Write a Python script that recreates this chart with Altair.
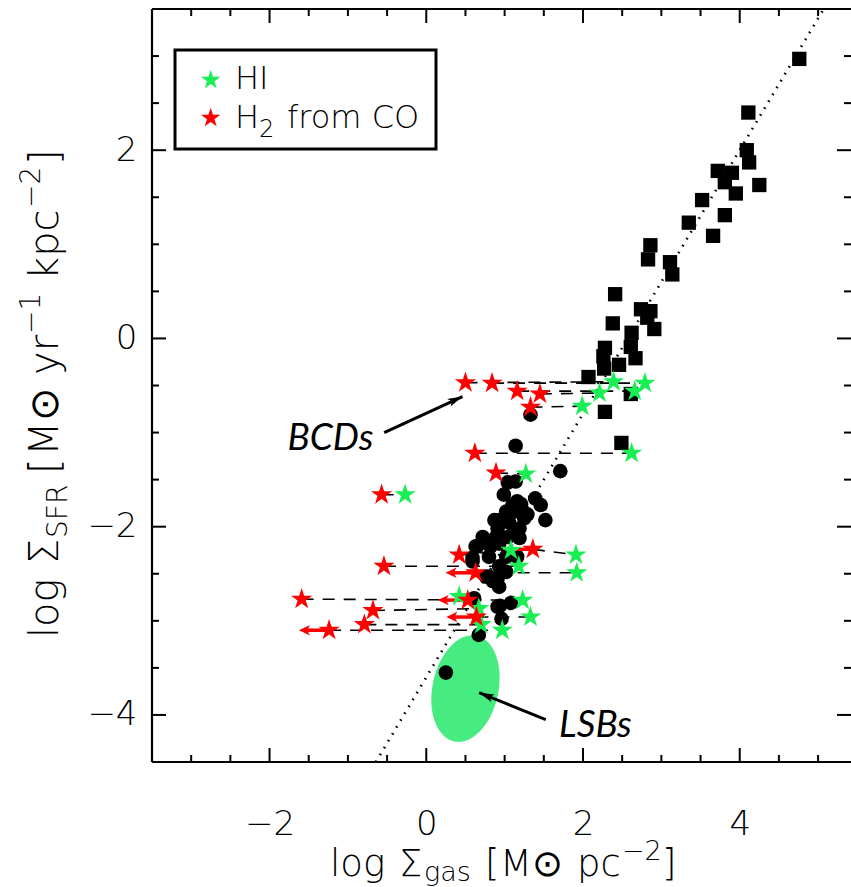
import altair as alt
import pandas as pd

# ---------------------------------------------------------------- data
# Starburst / normal galaxies (squares)
sq_x = [4.76, 4.11, 4.09, 4.12, 3.72, 3.90, 3.81, 4.25, 3.95, 3.52, 3.81, 3.35,
        3.66, 2.86, 2.83, 3.11, 3.14, 2.41, 2.74, 2.86, 2.82, 2.38, 2.91, 2.62,
        2.61, 2.28, 2.67, 2.26, 2.46, 2.27, 2.07, 2.61, 2.28, 2.49]
sq_y = [2.97, 2.40, 2.00, 1.87, 1.78, 1.76, 1.66, 1.63, 1.54, 1.47, 1.31, 1.23,
        1.09, 0.99, 0.84, 0.81, 0.68, 0.47, 0.31, 0.29, 0.22, 0.16, 0.10, 0.06,
        -0.09, -0.10, -0.21, -0.19, -0.28, -0.32, -0.41, -0.59, -0.78, -1.11]

# Spiral disks (circles)
ci_x = [1.33, 1.14, 1.71, 1.04, 1.14, 0.99, 1.16, 1.39, 1.46, 1.10, 1.21, 1.02,
        1.12, 0.93, 1.25, 1.29, 1.52, 1.06, 0.87, 0.91, 1.19, 1.16, 0.72, 0.89,
        1.04, 1.19, 0.63, 0.82, 0.93, 0.80, 0.59, 1.16, 1.02, 0.93, 1.02, 0.80,
        0.91, 0.76, 0.85, 0.93, 0.61, 0.94, 1.08, 0.91, 0.96, 0.67, 0.25, 0.59,
        0.65]
ci_y = [-0.81, -1.14, -1.41, -1.53, -1.52, -1.66, -1.73, -1.70, -1.77, -1.77,
        -1.76, -1.84, -1.84, -1.93, -1.91, -1.87, -1.93, -1.96, -1.93, -2.02,
        -2.02, -2.07, -2.11, -2.11, -2.11, -2.12, -2.21, -2.21, -2.18, -2.32,
        -2.33, -2.32, -2.32, -2.42, -2.48, -2.53, -2.55, -2.53, -2.58, -2.64,
        -2.76, -2.84, -2.81, -2.85, -2.98, -3.15, -3.55, -2.37, -2.21]

# Dwarfs: H2 from CO (red) and HI (green), one entry per galaxy
h2_x = [0.50, 0.84, 1.16, 1.45, 1.33, 0.62, 0.89, -0.57, 0.42, 1.36, -0.54,
        0.63, -1.59, 0.53, -0.68, 0.64, -0.79, -1.24]
h2_y = [-0.47, -0.475, -0.56, -0.59, -0.73, -1.22, -1.43, -1.66, -2.30, -2.24,
        -2.42, -2.49, -2.77, -2.78, -2.89, -2.96, -3.04, -3.10]
h2_limit = [False, False, False, False, False, False, False, False, False, True,
            False, True, False, True, False, True, False, True]
hi_x = [2.39, 2.79, 2.66, 2.21, 1.99, 2.62, 1.27, -0.27, 1.08, 1.91, 1.18, 1.92,
        1.23, 0.42, 0.67, 1.33, 0.70, 0.97]
hi_y = [-0.46, -0.475, -0.56, -0.58, -0.72, -1.22, -1.44, -1.66, -2.25, -2.30,
        -2.42, -2.49, -2.78, -2.74, -2.87, -2.96, -3.04, -3.10]

# Schmidt law, slope 1.4, across the plotted range
law_x = [-0.643, 5.071]
law_y = [-4.5, 3.5]

# LSB region
lsb_x = [0.50]
lsb_y = [-3.72]

# annotations: label position, arrow tail, arrow tip, head angle
ann_text = ["BCDs", "LSBs"]
ann_tx = [-1.772, 1.695]
ann_ty = [-1.184, -4.234]
ann_x0 = [-0.537, 1.525]
ann_y0 = [-1.00, -4.05]
ann_x1 = [0.462, 0.675]
ann_y1 = [-0.617, -3.763]
ann_angle = [65.3, 292.3]

x_major = [-2, 0, 2, 4]
x_minor = [-3, -2.5, -1.5, -1, -0.5, 0.5, 1, 1.5, 2.5, 3, 3.5, 4.5, 5]
y_major = [-4, -2, 0, 2]
y_minor = [-3.5, -3, -2.5, -1.5, -1, -0.5, 0.5, 1, 1.5, 2.5, 3]

# ---------------------------------------------------------------- layout
W, H = 699, 753
OX, OY = 152, 9
FONT = "DejaVu Sans"
RED = "#ff0000"
GREEN = "#1aee55"
STAR = ("M 0 -1 L 0.2245 -0.309 L 0.951 -0.309 L 0.363 0.118 L 0.588 0.809 "
        "L 0 0.382 L -0.588 0.809 L -0.363 0.118 L -0.951 -0.309 "
        "L -0.2245 -0.309 Z")
ELLIPSE = "M -0.611 0 A 0.611 1 0 1 0 0.611 0 A 0.611 1 0 1 0 -0.611 0 Z"
HEAD = "M 0 0 L 0.42 1.5 L 0 1.15 L -0.42 1.5 Z"
LIMIT_HEAD = "M 0 -1 L 0.85 0.8 L 0 0.35 L -0.85 0.8 Z"

xs = alt.Scale(domain=[-3.5, 5.42], nice=False, zero=False)
ys = alt.Scale(domain=[-4.5, 3.5], nice=False, zero=False)
x_axis = alt.Axis(values=x_major, ticks=False, domain=False, grid=False,
                  title=None, labelFontSize=34, labelFont=FONT,
                  labelFontWeight=200, labelColor="black", labelPadding=45,
                  format="d", labelFlush=False)
y_axis = alt.Axis(values=y_major, ticks=False, domain=False, grid=False,
                  title=None, labelFontSize=34, labelFont=FONT,
                  labelFontWeight=200, labelColor="black", labelPadding=15,
                  format="d", labelFlush=False)


def X(f):
    return alt.X(f, type="quantitative", scale=xs, axis=x_axis)


def Y(f):
    return alt.Y(f, type="quantitative", scale=ys, axis=y_axis)


one = pd.DataFrame({"k": [0]})

squares = pd.DataFrame({"x": sq_x, "y": sq_y})
circles = pd.DataFrame({"x": ci_x, "y": ci_y})
pairs = pd.DataFrame({"h2x": h2_x, "h2y": h2_y, "hix": hi_x, "hiy": hi_y,
                      "lim": h2_limit})
limits = pairs[pairs["lim"]]
law = pd.DataFrame({"x": law_x, "y": law_y})
lsb = pd.DataFrame({"x": lsb_x, "y": lsb_y})
ann = pd.DataFrame({"t": ann_text, "tx": ann_tx, "ty": ann_ty, "x0": ann_x0,
                    "y0": ann_y0, "x1": ann_x1, "y1": ann_y1,
                    "a": ann_angle})

layers = []

# LSB ellipse
layers.append(alt.Chart(lsb).mark_point(
    shape=ELLIPSE, size=11664, angle=12, filled=True, color="#46ec80",
    opacity=1, strokeWidth=0).encode(x=X("x"), y=Y("y")))

# Schmidt law
layers.append(alt.Chart(law).mark_line(
    color="black", strokeWidth=2.6, strokeDash=[1.6, 6.4], clip=True
).encode(x=X("x"), y=Y("y")))

# dashed connectors H2 -> HI
layers.append(alt.Chart(pairs).mark_rule(
    color="black", strokeWidth=1.6, strokeDash=[12, 9]
).encode(x=X("h2x"), y=Y("h2y"), x2=alt.X2("hix"), y2=alt.Y2("hiy")))

# circles and squares
layers.append(alt.Chart(circles).mark_point(
    shape="circle", size=215, filled=True, color="black", opacity=1
).encode(x=X("x"), y=Y("y")))
layers.append(alt.Chart(squares).mark_point(
    shape="square", size=205, filled=True, color="black", opacity=1
).encode(x=X("x"), y=Y("y")))

# upper-limit arrows on H2 points
layers.append(alt.Chart(limits).mark_rule(
    color=RED, strokeWidth=3.5, x2Offset=-22
).encode(x=X("h2x"), x2=alt.X2("h2x"), y=Y("h2y")))
layers.append(alt.Chart(limits).mark_point(
    shape=LIMIT_HEAD, size=150, angle=270, filled=True, color=RED, opacity=1,
    xOffset=-24, strokeWidth=0
).encode(x=X("h2x"), y=Y("h2y")))

# stars
layers.append(alt.Chart(pairs).mark_point(
    shape=STAR, size=500, filled=True, color=GREEN, opacity=1, strokeWidth=0
).encode(x=X("hix"), y=Y("hiy")))
layers.append(alt.Chart(pairs).mark_point(
    shape=STAR, size=500, filled=True, color=RED, opacity=1, strokeWidth=0
).encode(x=X("h2x"), y=Y("h2y")))

# annotations
layers.append(alt.Chart(ann).mark_text(
    align="left", baseline="alphabetic", font="Lato", fontStyle="italic",
    fontSize=37, color="black"
).encode(x=X("tx"), y=Y("ty"), text="t:N"))
layers.append(alt.Chart(ann).mark_rule(color="black", strokeWidth=3).encode(
    x=X("x0"), y=Y("y0"), x2=alt.X2("x1"), y2=alt.Y2("y1")))
layers.append(alt.Chart(ann).mark_point(
    shape=HEAD, size=400, filled=True, color="black", opacity=1,
    strokeWidth=0
).encode(x=X("x1"), y=Y("y1"), angle=alt.Angle("a:Q", scale=None)))

# frame (left, top, bottom)
layers.append(alt.Chart(one).mark_rule(color="black", strokeWidth=2.2).encode(
    x=alt.value(0), y=alt.value(0), y2=alt.value(H)))
layers.append(alt.Chart(one).mark_rule(color="black", strokeWidth=2.2).encode(
    x=alt.value(0), x2=alt.value(W), y=alt.value(0)))
layers.append(alt.Chart(one).mark_rule(color="black", strokeWidth=2.2).encode(
    x=alt.value(0), x2=alt.value(W), y=alt.value(H)))

# inward ticks on all four sides
xmaj = pd.DataFrame({"v": x_major})
xmin = pd.DataFrame({"v": x_minor})
ymaj = pd.DataFrame({"v": y_major})
ymin = pd.DataFrame({"v": y_minor})
for df, ln in ((xmaj, 14), (xmin, 7)):
    layers.append(alt.Chart(df).mark_rule(color="black", strokeWidth=2).encode(
        x=X("v"), y=alt.value(H), y2=alt.value(H - ln)))
    layers.append(alt.Chart(df).mark_rule(color="black", strokeWidth=2).encode(
        x=X("v"), y=alt.value(0), y2=alt.value(ln)))
for df, ln in ((ymaj, 14), (ymin, 7)):
    layers.append(alt.Chart(df).mark_rule(color="black", strokeWidth=2).encode(
        y=Y("v"), x=alt.value(0), x2=alt.value(ln)))
    layers.append(alt.Chart(df).mark_rule(color="black", strokeWidth=2).encode(
        y=Y("v"), x=alt.value(W), x2=alt.value(W - ln)))

# legend box
layers.append(alt.Chart(one).mark_rect(
    fill="white", stroke="black", strokeWidth=3
).encode(x=alt.value(23), x2=alt.value(284), y=alt.value(41),
         y2=alt.value(140)))
leg = pd.DataFrame({"c": ["HI", "H2"], "py": [71, 109]})
layers.append(alt.Chart(leg).mark_point(
    shape=STAR, size=420, filled=True, opacity=1, strokeWidth=0
).encode(x=alt.value(58.7), y=alt.Y("py:Q", scale=None),
         color=alt.Color("c:N", scale=alt.Scale(domain=["HI", "H2"],
                                                range=[GREEN, RED]),
                         legend=None)))


def txt(s, px, py, size=32, angle=0):
    """Text placed in page pixels."""
    return alt.Chart(one).mark_text(
        text=s, align="left", baseline="alphabetic", font=FONT,
        fontWeight=200, fontSize=size, angle=angle, color="black"
    ).encode(x=alt.value(px - OX), y=alt.value(py - OY))


# legend labels
layers.append(txt("HI", 235, 89))
layers.append(txt("H", 235, 128))
layers.append(txt("2", 259, 137, 24))
layers.append(txt("from CO", 287, 128))

# x title: log Σgas [M⊙ pc−2]
XB = 876
for s, px, py, sz in (("log", 330, XB, 37), ("Σ", 399, XB, 37),
                      ("gas", 424, XB + 5, 27), ("[", 485, XB, 37),
                      ("M⊙", 500, XB, 37), ("pc", 577, XB, 37),
                      ("−2", 622, XB - 16, 27), ("]", 662, XB, 37)):
    layers.append(txt(s, px, py, sz))

# y title: log ΣSFR [M⊙ yr−1 kpc−2]
BX = 58
YS = 8
for s, px, py, sz in (("log", BX, 630, 40), ("Σ", BX, 556, 40),
                      ("SFR", BX + 9, 530, 28), ("[", BX, 466, 40),
                      ("M⊙", BX, 448, 40), ("yr", BX, 367, 40),
                      ("−1", BX - 18, 326, 28), ("kpc", BX, 272, 40),
                      ("−2", BX - 18, 200, 28), ("]", BX, 157, 40)):
    layers.append(txt(s, px, py + YS, sz, 270))

chart = alt.layer(*layers).properties(
    width=W, height=H,
    autosize=alt.AutoSizeParams(type="none"),
    padding={"left": OX, "top": OY, "right": 0, "bottom": 887 - OY - H},
    background="white",
).configure_view(stroke=None)

chart.save("out.html", embed_options={"renderer": "svg", "actions": False})
